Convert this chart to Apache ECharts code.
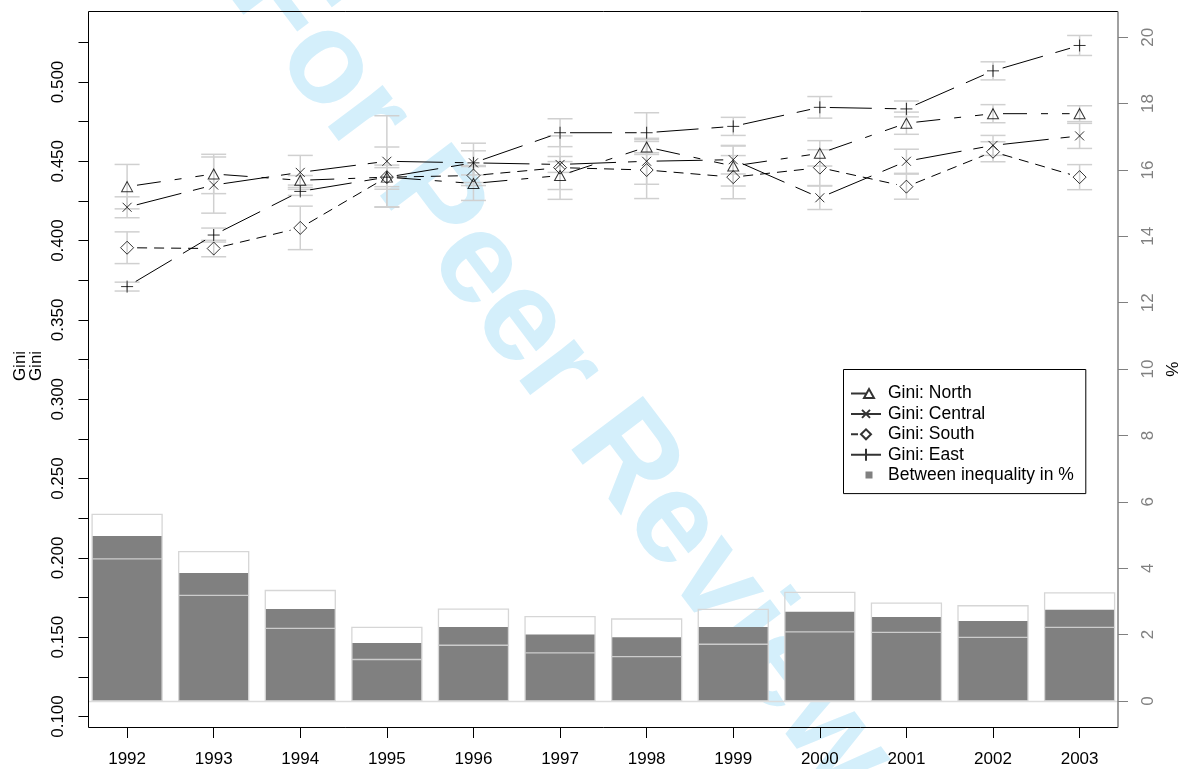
<!DOCTYPE html>
<html>
<head>
<meta charset="utf-8">
<script src="https://cdn.jsdelivr.net/npm/echarts@6/dist/echarts.min.js"></script>
<style>
  html, body { margin: 0; padding: 0; background: #fff; }
  #chart { width: 1180px; height: 769px; }
</style>
</head>
<body>
<div id="chart"></div>
<script>
// ---- data ----
const years = ['1992', '1993', '1994', '1995', '1996', '1997', '1998', '1999', '2000', '2001', '2002', '2003']

const giniNorth = [0.434, 0.442, 0.438, 0.440, 0.436, 0.441, 0.459, 0.447, 0.455, 0.474, 0.480, 0.480]
const giniNorthErr = [0.014, 0.0124, 0.003, 0.006, 0.0107, 0.0088, 0.0047, 0.0126, 0.008, 0.007, 0.0057, 0.005]
const giniCentral = [0.421, 0.435, 0.443, 0.450, 0.449, 0.448, 0.450, 0.451, 0.427, 0.450, 0.460, 0.466]
const giniCentralErr = [0.0066, 0.0177, 0.0107, 0.0287, 0.0124, 0.005, 0.0145, 0.009, 0.0074, 0.0076, 0.0063, 0.0079]
const giniSouth = [0.3955, 0.395, 0.408, 0.440, 0.441, 0.446, 0.4445, 0.440, 0.446, 0.434, 0.456, 0.440]
const giniSouthErr = [0.010, 0.0052, 0.0137, 0.0076, 0.0063, 0.020, 0.018, 0.0136, 0.0113, 0.0079, 0.0063, 0.0079]
const giniEast = [0.371, 0.4035, 0.431, 0.440, 0.449, 0.468, 0.468, 0.472, 0.484, 0.483, 0.507, 0.523]
const giniEastErr = [0.0028, 0.0044, 0.0025, 0.019, 0.0076, 0.0088, 0.0126, 0.0057, 0.0068, 0.005, 0.0057, 0.0063]

// between-group inequality (%), with its band
const betweenPct = [4.97, 3.86, 2.77, 1.75, 2.23, 2.0, 1.92, 2.23, 2.69, 2.53, 2.41, 2.75]
const betweenLow = [4.28, 3.18, 2.19, 1.25, 1.68, 1.45, 1.34, 1.71, 2.08, 2.07, 1.92, 2.22]
const betweenHigh = [5.62, 4.50, 3.33, 2.22, 2.77, 2.54, 2.47, 2.76, 3.27, 2.95, 2.87, 3.26]

// axes
const giniMin = 0.1
const giniMax = 0.525
const giniStep = 0.025
const pctMin = 0
const pctMax = 20
const pctStep = 2

// ---- layout ----
const FONT = '"Liberation Sans", Arial, Helvetica, sans-serif'
const FRAME = { l: 88.5, t: 11.5, r: 1118, b: 727.5 }
const PLOT = { left: 83.8, right: 1122.9 } // category bands
const BAND = (PLOT.right - PLOT.left) / years.length
const BAR_W = 70
const CAP = 12.5
const GAP = 10
const ERR_COLOR = '#d0d0d0'

const groups = [
  { name: 'Gini: North', values: giniNorth, err: giniNorthErr, dash: [24, 14, 7, 14],
    symbol: 'triangle', size: [11, 10],
    icon: 'path://M0,7H15.5M13,11.5L18,2.5L23,11.5ZM32,7h-0.01' },
  { name: 'Gini: Central', values: giniCentral, err: giniCentralErr, dash: [46, 12],
    symbol: 'path://M0,0L10,10M0,10L10,0', size: 9,
    icon: 'path://M0,7H30M11,3L19,11M11,11L19,3M32,7h-0.01' },
  { name: 'Gini: South', values: giniSouth, err: giniSouthErr, dash: [10, 7],
    symbol: 'diamond', size: [13, 13],
    icon: 'path://M0,7H7M10,7L15,2L20,7L15,12ZM32,7h-0.01' },
  { name: 'Gini: East', values: giniEast, err: giniEastErr, dash: [42, 13],
    symbol: 'path://M5,0V10M0,5H10', size: 12,
    icon: 'path://M0,7H30M15,1V13M9,7H21M32,7h-0.01' }
]

function errorBarItem(values, err) {
  return function (params, api) {
    const i = params.dataIndex
    const hi = api.coord([i, values[i] + err[i]])
    const lo = api.coord([i, values[i] - err[i]])
    const st = { stroke: ERR_COLOR, lineWidth: 1.5 }
    return {
      type: 'group',
      children: [
        { type: 'line', shape: { x1: hi[0], y1: hi[1], x2: lo[0], y2: lo[1] }, style: st },
        { type: 'line', shape: { x1: hi[0] - CAP, y1: hi[1], x2: hi[0] + CAP, y2: hi[1] }, style: st },
        { type: 'line', shape: { x1: lo[0] - CAP, y1: lo[1], x2: lo[0] + CAP, y2: lo[1] }, style: st }
      ]
    }
  }
}

// lines broken around the points, dash restarting on each segment
function segmentItem(values, dash) {
  return function (params, api) {
    const i = params.dataIndex
    if (i >= values.length - 1) return null
    const a = api.coord([i, values[i]])
    const b = api.coord([i + 1, values[i + 1]])
    const dx = b[0] - a[0]
    const dy = b[1] - a[1]
    const len = Math.sqrt(dx * dx + dy * dy)
    const ux = dx / len
    const uy = dy / len
    return {
      type: 'line',
      shape: { x1: a[0] + ux * GAP, y1: a[1] + uy * GAP, x2: b[0] - ux * GAP, y2: b[1] - uy * GAP },
      style: { stroke: '#000', lineWidth: 1, lineDash: dash }
    }
  }
}

const series = []

series.push({
  name: 'Between inequality in %',
  type: 'bar',
  xAxisIndex: 1,
  yAxisIndex: 1,
  barWidth: BAR_W,
  itemStyle: { color: '#808080' },
  data: betweenPct.map((v, i) => [i, v]),
  z: 2,
  markLine: {
    silent: true,
    symbol: 'none',
    label: { show: false },
    lineStyle: { color: '#dcdcdc', type: 'solid', width: 1.3 },
    data: [{ yAxis: 0 }]
  }
})

series.push({
  name: 'between band',
  type: 'custom',
  xAxisIndex: 1,
  yAxisIndex: 1,
  z: 3,
  data: betweenPct.map((v, i) => [i, betweenLow[i], betweenHigh[i]]),
  renderItem(params, api) {
    const base = api.coord([api.value(0), 0])
    const top = api.coord([api.value(0), api.value(2)])
    const low = api.coord([api.value(0), api.value(1)])
    const h = BAR_W / 2
    return {
      type: 'group',
      children: [
        { type: 'rect', shape: { x: base[0] - h, y: top[1], width: BAR_W, height: base[1] - top[1] },
          style: { fill: 'none', stroke: '#d6d6d6', lineWidth: 1.3 } },
        { type: 'line', shape: { x1: base[0] - h, y1: low[1], x2: base[0] + h, y2: low[1] },
          style: { stroke: '#cccccc', lineWidth: 1.3 } }
      ]
    }
  }
})

groups.forEach(g => {
  series.push({
    name: g.name + ' err',
    type: 'custom',
    xAxisIndex: 0,
    yAxisIndex: 0,
    z: 3,
    data: g.values.map((v, i) => [i, v]),
    renderItem: errorBarItem(g.values, g.err)
  })
})
groups.forEach(g => {
  series.push({
    name: g.name + ' line',
    type: 'custom',
    xAxisIndex: 0,
    yAxisIndex: 0,
    z: 4,
    data: g.values.map((v, i) => [i, v]),
    renderItem: segmentItem(g.values, g.dash)
  })
})
groups.forEach(g => {
  series.push({
    name: g.name,
    type: 'scatter',
    xAxisIndex: 0,
    yAxisIndex: 0,
    z: 5,
    symbol: g.symbol,
    symbolSize: g.size,
    itemStyle: { color: 'rgba(255,255,255,0)', borderColor: '#000', borderWidth: 1 },
    data: g.values.map((v, i) => [i, v])
  })
})

const legendData = groups.map(g => ({ name: g.name, icon: g.icon }))
legendData.push({ name: 'Between inequality in %', icon: 'path://M0,7h0.01M14.5,3.5h7v7h-7ZM32,7h-0.01' })

const xMin = -0.5 + (FRAME.l - PLOT.left) / BAND
const xMax = years.length - 0.5 - (PLOT.right - FRAME.r) / BAND

const chart = echarts.init(document.getElementById('chart'))
chart.setOption({
  backgroundColor: '#fff',
  animation: false,
  textStyle: { fontFamily: FONT },
  grid: [
    { left: PLOT.left, width: PLOT.right - PLOT.left, top: 42.3, height: 674.2, outerBoundsMode: 'none', containLabel: false },
    { left: FRAME.l, width: FRAME.r - FRAME.l, top: 37.2, height: 701 - 37.2, outerBoundsMode: 'none', containLabel: false }
  ],
  xAxis: [
    {
      type: 'category',
      gridIndex: 0,
      data: years,
      boundaryGap: true,
      offset: FRAME.b - 716.5,
      axisLine: { show: false },
      axisTick: { show: true, alignWithLabel: true, length: 10.5, lineStyle: { color: '#000', width: 1 } },
      axisLabel: { color: '#000', fontSize: 17, margin: 23, fontFamily: FONT },
      splitLine: { show: false }
    },
    {
      type: 'value',
      gridIndex: 1,
      min: xMin,
      max: xMax,
      show: false
    }
  ],
  yAxis: [
    {
      type: 'value',
      gridIndex: 0,
      min: giniMin,
      max: giniMax,
      interval: giniStep,
      offset: PLOT.left - FRAME.l,
      axisLine: { show: false, onZero: false },
      axisTick: { show: true, length: 10, lineStyle: { color: '#000', width: 1 } },
      axisLabel: {
        rotate: 90,
        margin: 22,
        fontSize: 17,
        color: '#000',
        fontFamily: FONT,
        formatter(v) {
          const k = Math.round(v * 1000)
          return k % 50 === 0 ? (k / 1000).toFixed(3) : ''
        }
      },
      splitLine: { show: false }
    },
    {
      type: 'value',
      gridIndex: 1,
      position: 'right',
      min: pctMin,
      max: pctMax,
      interval: pctStep,
      name: '%',
      nameLocation: 'middle',
      nameRotate: 90,
      nameGap: 38,
      nameTextStyle: { color: '#000', fontSize: 17, fontFamily: FONT },
      axisLine: { show: false, onZero: false },
      axisTick: { show: true, inside: false, length: 10, lineStyle: { color: '#808080', width: 1 } },
      axisLabel: { rotate: 90, margin: 22, fontSize: 17, color: '#808080', fontFamily: FONT },
      splitLine: { show: false }
    }
  ],
  legend: {
    orient: 'vertical',
    left: 843.5,
    top: 369.5,
    selectedMode: false,
    itemWidth: 32,
    itemHeight: 14,
    itemGap: 2.4,
    itemTextGap: 20,
    padding: [15, 12, 9.5, 6.5],
    borderColor: '#000',
    borderWidth: 1,
    borderRadius: 0,
    backgroundColor: '#fff',
    textStyle: { fontSize: 17.5, color: '#000', fontFamily: FONT },
    data: legendData
  },
  graphic: [
    {
      type: 'text',
      x: 560,
      y: 375,
      rotation: -53 * Math.PI / 180,
      silent: true,
      z: 0,
      style: {
        text: 'For Peer Review',
        fontSize: 130,
        fontWeight: 'bold',
        fontFamily: FONT,
        fill: '#d4effb',
        align: 'center',
        verticalAlign: 'middle'
      }
    },
    {
      type: 'text',
      x: 28,
      y: 366,
      rotation: Math.PI / 2,
      silent: true,
      z: 10,
      style: {
        text: 'Gini\nGini',
        fontSize: 17,
        lineHeight: 16,
        fontFamily: FONT,
        fill: '#000',
        align: 'center',
        verticalAlign: 'middle'
      }
    },
    {
      type: 'polyline',
      silent: true,
      z: 100,
      shape: { points: [[FRAME.r, FRAME.t], [FRAME.l, FRAME.t], [FRAME.l, FRAME.b], [FRAME.r, FRAME.b]] },
      style: { stroke: '#000', lineWidth: 1, fill: 'none' }
    },
    {
      type: 'line',
      silent: true,
      z: 100,
      shape: { x1: FRAME.r, y1: FRAME.t, x2: FRAME.r, y2: FRAME.b },
      style: { stroke: '#808080', lineWidth: 1.5 }
    }
  ],
  series: series
})
</script>
</body>
</html>
